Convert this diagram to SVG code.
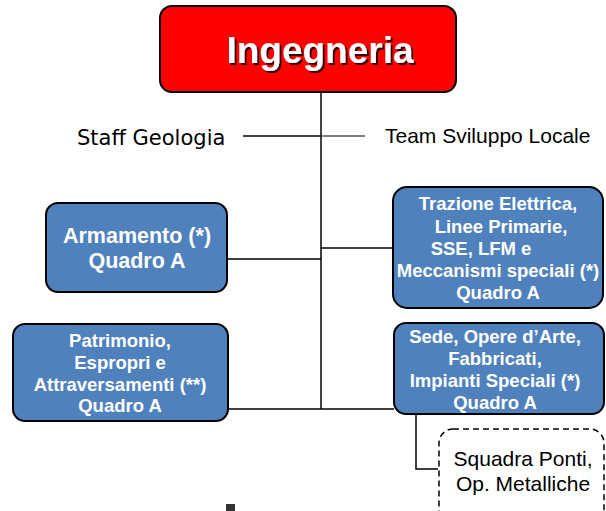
<svg xmlns="http://www.w3.org/2000/svg" width="606" height="511" viewBox="0 0 606 511">
<defs>
<filter id="sh" x="-10%" y="-10%" width="130%" height="130%">
<feOffset dx="2" dy="2" in="SourceAlpha" result="o"/>
<feFlood flood-color="#000" flood-opacity="0.8"/>
<feComposite in2="o" operator="in" result="s"/>
<feMerge><feMergeNode in="s"/><feMergeNode in="SourceGraphic"/></feMerge>
</filter>
</defs>
<style>
.box{fill:#4F81BD;stroke:#000;stroke-width:2}
.bt{font-family:"Liberation Sans",Arial,sans-serif;font-weight:bold;font-size:18.5px;fill:#fff;text-anchor:middle}
.big{font-size:21.5px}
.ln{stroke:#000;stroke-width:1.5;fill:none}
.rt{font-family:"Liberation Sans",Arial,sans-serif;font-size:21px;fill:#000}
</style>
<g id="connectors">
<line class="ln" x1="321" y1="92" x2="321" y2="409"/>
<line class="ln" x1="243" y1="136" x2="321" y2="136"/>
<line x1="321" y1="136" x2="365" y2="136" stroke="#555" stroke-width="1.5"/>
<line class="ln" x1="227" y1="259" x2="321" y2="259"/>
<line class="ln" x1="321" y1="248" x2="393" y2="248"/>
<line class="ln" x1="228" y1="409" x2="394" y2="409"/>
<polyline class="ln" points="416,414 416,469 438,469"/>
</g>
<g id="ingegneria">
<rect x="160" y="6" width="296" height="86" rx="12" fill="#FF0000" stroke="#000" stroke-width="2"/>
<text x="320" y="63" font-family="Liberation Sans,Arial,sans-serif" font-weight="bold" font-size="37" fill="#fff" text-anchor="middle" filter="url(#sh)">Ingegneria</text>
</g>
<g id="staff-geologia">
<text x="77" y="145" font-family="DejaVu Sans,Verdana,sans-serif" font-size="21" fill="#000">Staff Geologia</text>
</g>
<g id="team-sviluppo">
<text class="rt" x="385" y="143">Team Sviluppo Locale</text>
</g>
<g id="armamento">
<rect class="box" x="46" y="203" width="181" height="89" rx="12"/>
<text class="bt big" x="137" y="243">Armamento (*)</text>
<text class="bt big" x="137" y="268">Quadro A</text>
</g>
<g id="trazione">
<rect class="box" x="393" y="187" width="210" height="121" rx="14"/>
<text class="bt" x="498" y="210">Trazione Elettrica,</text>
<text class="bt" x="501" y="233">Linee Primarie,</text>
<text class="bt" x="481" y="255">SSE, LFM e</text>
<text class="bt" x="498" y="277">Meccanismi speciali (*)</text>
<text class="bt" x="498" y="299">Quadro A</text>
</g>
<g id="patrimonio">
<rect class="box" x="13" y="324" width="215" height="97" rx="12"/>
<text class="bt" x="120" y="347">Patrimonio,</text>
<text class="bt" x="120" y="369">Espropri e</text>
<text class="bt" x="120" y="391">Attraversamenti (**)</text>
<text class="bt" x="120" y="412">Quadro A</text>
</g>
<g id="sede">
<rect class="box" x="394" y="323" width="210" height="91" rx="12"/>
<text class="bt" x="495" y="343">Sede, Opere d’Arte,</text>
<text class="bt" x="495" y="365">Fabbricati,</text>
<text class="bt" x="495" y="387">Impianti Speciali (*)</text>
<text class="bt" x="495" y="409">Quadro A</text>
</g>
<g id="squadra">
<rect x="439" y="429" width="165" height="95" rx="14" fill="#fff" stroke="#000" stroke-width="1.5" stroke-dasharray="6,4"/>
<text class="rt" x="523" y="466" text-anchor="middle">Squadra Ponti,</text>
<text class="rt" x="523" y="491" text-anchor="middle">Op. Metalliche</text>
</g>
<rect x="226" y="504" width="9" height="7" fill="#333"/>
</svg>
